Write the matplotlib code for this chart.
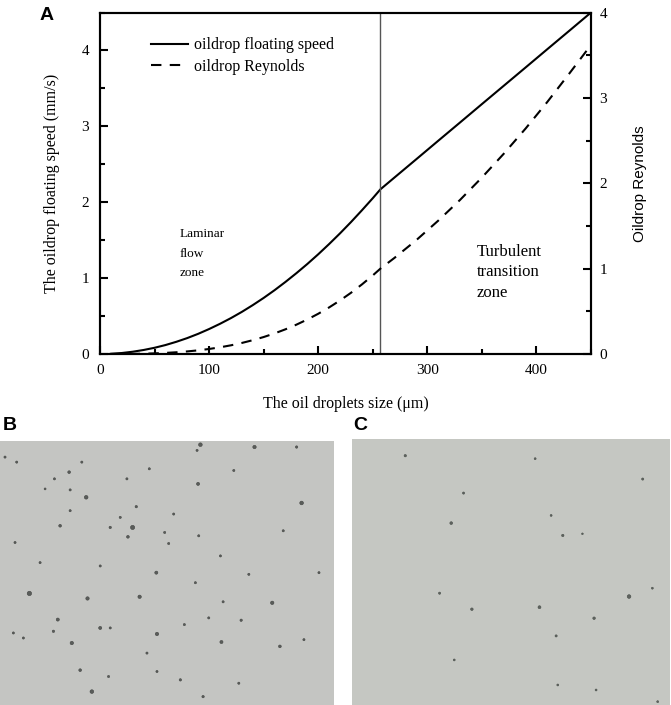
import matplotlib
matplotlib.use("Agg")
import matplotlib.pyplot as plt
from matplotlib.ticker import MultipleLocator

# ---------------- data ----------------
size_um = [10, 20, 30, 40, 50, 60, 70, 80, 90, 100, 110, 120, 130, 140, 150, 160, 170, 180,
           190, 200, 210, 220, 230, 240, 250, 257,
           270, 290, 310, 330, 350, 370, 390, 410, 430, 450]
speed_mm_s = [0.003, 0.013, 0.030, 0.053, 0.082, 0.118, 0.161, 0.210, 0.266, 0.329, 0.398,
              0.473, 0.555, 0.644, 0.739, 0.841, 0.950, 1.065, 1.186, 1.314, 1.449, 1.590,
              1.738, 1.893, 2.053, 2.17,
              2.327, 2.568, 2.810, 3.051, 3.293, 3.534, 3.775, 4.017, 4.258, 4.50]
reynolds = [0.0001, 0.0005, 0.0016, 0.0038, 0.0074, 0.0127, 0.0202, 0.0302, 0.0429, 0.0589,
            0.0784, 0.1018, 0.1294, 0.1617, 0.1988, 0.2413, 0.2894, 0.3436, 0.4041, 0.4713,
            0.5456, 0.6273, 0.7167, 0.8144, 0.9205, 1.0,
            1.127, 1.335, 1.562, 1.805, 2.067, 2.345, 2.640, 2.953, 3.283, 3.620]
boundary_um = 257

xticks = [0, 100, 200, 300, 400]
yticks_left = [0, 1, 2, 3, 4]
yticks_right = [0, 1, 2, 3, 4]

# droplet positions in micrographs (pixel units of each image)
dots_b_x = [600, 762, 888, 207, 163, 447, 593, 258, 903, 135, 210, 408, 180, 397, 383, 330,
            493, 210, 505, 595, 45, 660, 468, 585, 88, 418, 262, 815, 668, 955, 173, 300,
            160, 330, 470, 552, 722, 625, 215, 663, 838, 40, 70, 240, 275, 325, 470, 540,
            715, 608, 440, 745, 848, 520, 15, 50, 245, 380, 700, 300, 120, 590, 360, 910]
dots_b_y = [193, 200, 200, 275, 295, 265, 310, 350, 367, 325, 328, 378, 435, 440, 468, 440,
            455, 390, 488, 465, 485, 525, 575, 605, 637, 647, 652, 665, 662, 575, 715, 740,
            750, 740, 758, 730, 717, 710, 785, 782, 795, 755, 770, 866, 930, 885, 870, 895,
            905, 945, 815, 580, 450, 400, 230, 245, 245, 295, 270, 555, 545, 210, 410, 775]
dots_b_s = [7, 6, 3, 4, 2.5, 2.5, 5, 7, 7, 2, 2.5, 3, 4, 9, 4, 3,
            2.5, 2.5, 2.5, 2.5, 2.5, 2.5, 5, 2.5, 10, 6, 6, 6, 2.5, 2.5, 5, 5,
            3, 2.5, 6, 2.5, 3, 2.5, 6, 5, 4, 2.5, 2.5, 4, 7, 2.5, 2.5, 3,
            2.5, 3, 2.5, 2.5, 2.5, 2.5, 2.5, 2.5, 2.5, 2.5, 2.5, 2.5, 2.5, 2.5, 2.5, 2.5]

dots_c_x = [225, 615, 938, 400, 663, 363, 698, 757, 328, 425, 628, 897, 967, 792, 678, 372, 683, 798, 983]
dots_c_y = [228, 237, 298, 340, 407, 430, 467, 462, 640, 688, 682, 650, 625, 715, 768, 840, 915, 930, 965]
dots_c_s = [3, 2, 2.5, 2.5, 2, 4, 3, 1.5, 2.5, 3.5, 4.5, 7, 2, 3.5, 2.5, 2, 2, 2, 2]

# ---------------- figure ----------------
W, H = 671, 705
fig = plt.figure(figsize=(W / 100, H / 100), dpi=100)
serif = "Liberation Serif"

def fr(x0, y0, x1, y1):
    return [x0 / W, 1 - y1 / H, (x1 - x0) / W, (y1 - y0) / H]

ax = fig.add_axes(fr(100, 12.5, 591, 354))
ax.plot(size_um, speed_mm_s, color="black", lw=1.5, label="oildrop floating speed")
ax.plot([], [], color="black", lw=1.5, ls=(0, (5, 4)), label="oildrop Reynolds")
ax.axvline(boundary_um, color="#555555", lw=1.0)
ax.set_xlim(0, 450)
ax.set_ylim(0, 4.5)
ax.set_xticks(xticks)
ax.set_yticks(yticks_left)
ax.xaxis.set_minor_locator(MultipleLocator(50))
ax.yaxis.set_minor_locator(MultipleLocator(0.5))
ax.tick_params(which="both", direction="in", top=False, right=False,
               labelsize=11, width=1.5)
ax.tick_params(which="major", length=6)
ax.tick_params(which="minor", length=3.5)
ax.tick_params(axis="x", which="major", pad=7)
ax.tick_params(axis="y", which="major", pad=8)
for lab in ax.get_xticklabels() + ax.get_yticklabels():
    lab.set_fontfamily(serif)
for s in ax.spines.values():
    s.set_linewidth(1.5)
ax.set_xlabel("The oil droplets size (μm)", fontfamily=serif, fontsize=11.5, labelpad=14)
ax.set_ylabel("The oildrop floating speed (mm/s)", fontfamily=serif, fontsize=11.5, labelpad=15.5)

ax2 = ax.twinx()
ax2.plot(size_um, reynolds, color="black", lw=1.5, ls=(0, (5, 4)))
ax2.set_ylim(0, 4)
ax2.set_yticks(yticks_right)
ax2.yaxis.set_minor_locator(MultipleLocator(0.5))
ax2.tick_params(which="both", direction="in", labelsize=11, width=1.5)
ax2.tick_params(which="major", length=6, pad=6)
ax2.tick_params(which="minor", length=3.5)
for lab in ax2.get_yticklabels():
    lab.set_fontfamily(serif)
ax2.set_ylabel("Oildrop Reynolds", fontfamily="Liberation Sans", fontsize=11,
               labelpad=19)
for s in ax2.spines.values():
    s.set_linewidth(1.5)

leg = ax.legend(loc="upper left", bbox_to_anchor=(0.075, 0.97), frameon=False,
                prop={"family": serif, "size": 11.5}, handlelength=2.3,
                handletextpad=0.4, labelspacing=0.35)

ax.text(73, 1.66, "Laminar\nflow\nzone", fontfamily=serif, fontsize=9.5,
        va="top", ha="left", linespacing=1.85)
ax.text(345, 1.45, "Turbulent\ntransition\nzone", fontfamily=serif, fontsize=12,
        va="top", ha="left", linespacing=1.37)

fig.text(40 / W, 1 - 15 / H, "A", fontfamily="Liberation Sans", fontweight="bold",
         fontsize=14, va="center", ha="left")
fig.text(3 / W, 1 - 425 / H, "B", fontfamily="Liberation Sans", fontweight="bold",
         fontsize=14, va="center", ha="left")
fig.text(353 / W, 1 - 425 / H, "C", fontfamily="Liberation Sans", fontweight="bold",
         fontsize=14, va="center", ha="left")

# micrograph B
axb = fig.add_axes(fr(0, 441, 334, 705))
axb.set_facecolor("#c4c5c2")
axb.scatter(dots_b_x, dots_b_y, s=dots_b_s, c="#5a5d5a", edgecolors="#444644", linewidths=0.4)
axb.set_xlim(0, 1000)
axb.set_ylim(970, 182)
axb.set_xticks([])
axb.set_yticks([])
for s in axb.spines.values():
    s.set_visible(False)

# micrograph C
axc = fig.add_axes(fr(352, 439, 670, 705))
axc.set_facecolor("#c5c7c2")
axc.scatter(dots_c_x, dots_c_y, s=dots_c_s, c="#5f635f", edgecolors="#4a504b", linewidths=0.4)
axc.set_xlim(65, 1020)
axc.set_ylim(975, 178)
axc.set_xticks([])
axc.set_yticks([])
for s in axc.spines.values():
    s.set_visible(False)

fig.savefig("out.png", dpi=100, facecolor="white")
